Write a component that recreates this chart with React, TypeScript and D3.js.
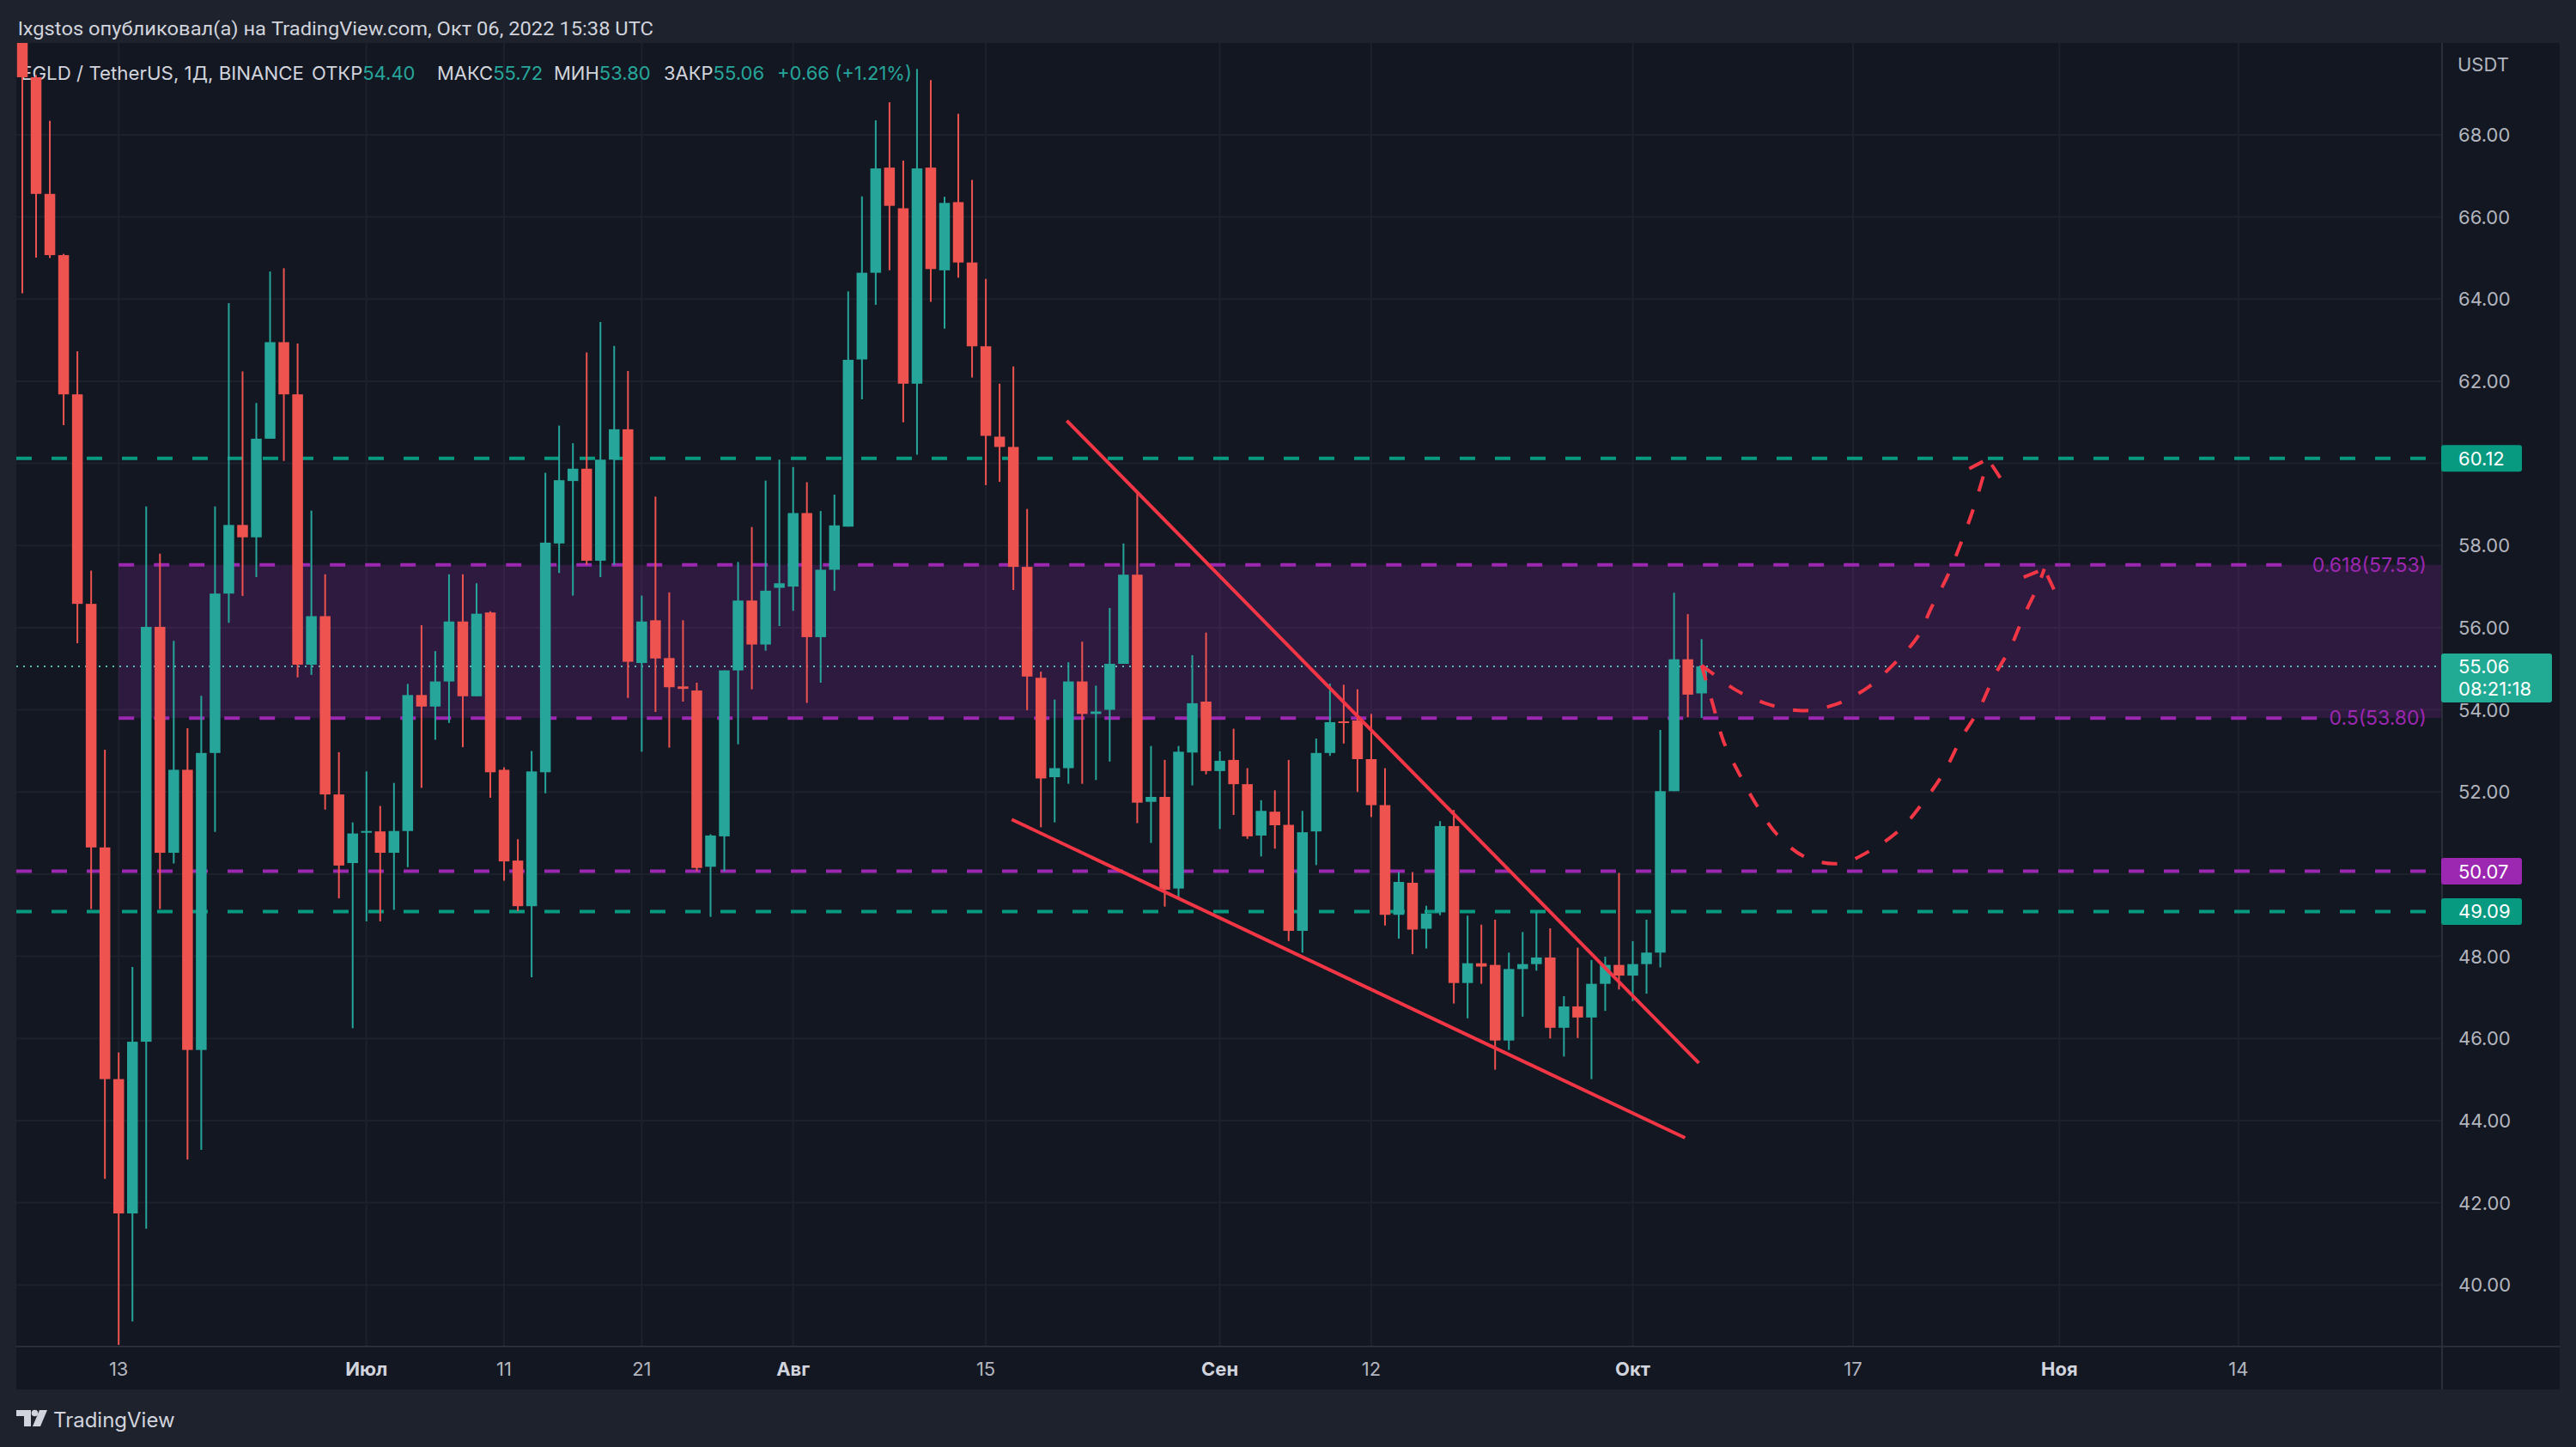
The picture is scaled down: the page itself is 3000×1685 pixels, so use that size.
import React from 'react';
import * as d3 from 'd3';

// ---------------- DATA ----------------
const START_DAY = '2022-06-06';

const opens = [
  71.0, 69.4, 66.56, 65.07, 61.68, 56.58, 50.65, 45.01, 41.74, 45.92,
  56.02, 50.52, 52.54, 45.72, 52.95, 56.83, 58.5, 58.2, 60.6, 62.95,
  61.68, 55.1, 56.28, 51.94, 50.27, 51.03, 51.04, 50.52, 51.05, 54.36,
  54.08, 54.69, 56.15, 54.33, 56.37, 52.54, 50.33, 49.22, 52.48, 58.05,
  59.57, 59.87, 57.63, 60.09, 60.83, 55.14, 56.18, 55.26, 54.57, 54.47,
  50.18, 50.92, 54.96, 56.66, 55.59, 56.97, 57.0, 58.79, 55.77, 57.41,
  58.46, 62.53, 64.64, 67.2, 66.21, 61.94, 67.2, 64.7, 66.36, 64.89,
  62.85, 60.65, 60.4, 57.48, 54.78, 52.36, 52.58, 54.69, 53.9, 54.0,
  55.12, 57.29, 51.76, 51.88, 49.65, 52.96, 54.2, 52.51, 52.78, 52.19,
  50.94, 51.52, 51.2, 48.62, 51.04, 52.95, 53.72, 53.74, 52.8, 51.68,
  49.01, 49.79, 48.67, 49.07, 51.17, 47.35, 47.83, 47.79, 45.95, 47.69,
  47.81, 47.97, 46.26, 46.78, 46.51, 47.33, 47.79, 47.53, 47.81, 48.09,
  52.02, 55.23, 54.4,
];
const highs = [
  71.5, 69.45, 68.34, 65.1, 62.73, 57.39, 53.03, 45.66, 47.74, 58.95,
  57.8, 55.68, 53.55, 54.34, 58.95, 63.9, 62.24, 61.47, 64.67, 64.75,
  62.92, 58.85, 57.3, 52.97, 51.26, 52.5, 51.66, 52.22, 54.63, 56.06,
  55.43, 57.3, 57.3, 57.08, 56.4, 52.6, 50.85, 53.0, 59.77, 60.92,
  60.49, 62.7, 63.44, 62.86, 62.25, 56.78, 59.19, 56.86, 56.18, 54.66,
  50.97, 54.96, 57.6, 58.45, 59.58, 60.09, 59.91, 59.54, 58.84, 59.24,
  64.19, 66.5, 68.35, 68.79, 67.37, 69.6, 69.33, 66.49, 68.51, 66.9,
  64.49, 61.94, 62.36, 58.89, 54.93, 54.25, 55.16, 55.66, 54.59, 56.48,
  58.05, 59.3, 53.12, 52.78, 53.12, 55.33, 55.88, 52.99, 53.54, 52.58,
  51.8, 52.04, 52.78, 51.54, 53.3, 54.64, 54.61, 54.5, 53.9, 52.58,
  50.05, 50.05, 49.23, 51.29, 51.56, 48.99, 48.77, 48.89, 48.09, 48.59,
  49.07, 48.68, 47.03, 48.21, 47.91, 47.99, 50.03, 48.37, 48.89, 53.51,
  56.85, 56.33, 55.72,
];
const lows = [
  64.14, 65.01, 65.0, 60.93, 55.62, 49.15, 42.58, 38.54, 39.11, 41.37,
  49.15, 50.26, 43.05, 43.29, 51.03, 56.12, 56.77, 57.23, 60.6, 60.06,
  54.79, 54.85, 51.57, 49.41, 46.25, 48.85, 48.85, 49.13, 50.17, 52.1,
  53.27, 53.68, 53.09, 54.33, 51.86, 49.84, 49.1, 47.49, 51.97, 57.33,
  56.78, 57.53, 57.23, 57.53, 54.29, 52.98, 53.95, 53.08, 54.2, 50.07,
  48.96, 50.07, 53.16, 54.5, 55.44, 56.04, 56.41, 54.17, 54.66, 56.9,
  58.46, 61.56, 63.86, 64.7, 61.0, 60.21, 63.93, 63.28, 64.52, 62.09,
  59.47, 59.55, 56.92, 53.99, 51.14, 51.26, 52.2, 52.2, 52.29, 52.74,
  55.12, 51.24, 50.76, 49.21, 49.38, 52.16, 52.43, 51.1, 51.44, 50.86,
  50.43, 50.62, 48.37, 48.09, 50.22, 52.88, 53.18, 52.0, 51.39, 48.75,
  48.43, 48.05, 48.19, 49.0, 46.85, 46.49, 47.33, 45.24, 45.72, 46.53,
  47.65, 46.0, 45.56, 46.01, 45.01, 46.67, 47.19, 46.91, 47.09, 47.73,
  52.02, 53.82, 53.8,
];
const closes = [
  69.4, 66.56, 65.07, 61.68, 56.58, 50.65, 45.01, 41.74, 45.92, 56.02,
  50.52, 52.54, 45.72, 52.95, 56.83, 58.5, 58.2, 60.6, 62.95, 61.68,
  55.1, 56.28, 51.94, 50.21, 50.99, 51.05, 50.52, 51.05, 54.36, 54.08,
  54.69, 56.15, 54.33, 56.34, 52.48, 50.31, 49.22, 52.5, 58.07, 59.59,
  59.87, 57.63, 60.09, 60.83, 55.17, 56.15, 55.25, 54.55, 54.51, 50.15,
  50.94, 54.96, 56.66, 55.59, 56.9, 57.08, 58.79, 55.77, 57.41, 58.49,
  62.52, 64.64, 67.18, 66.27, 61.94, 67.18, 64.73, 66.34, 64.89, 62.85,
  60.67, 60.4, 57.48, 54.81, 52.33, 52.58, 54.69, 53.9, 53.96, 55.12,
  57.29, 51.74, 51.88, 49.62, 52.98, 54.16, 52.51, 52.76, 52.19, 50.92,
  51.54, 51.19, 48.62, 51.02, 52.95, 53.7, 53.68, 52.8, 51.68, 49.01,
  49.81, 48.65, 49.04, 51.17, 47.35, 47.83, 47.75, 45.95, 47.69, 47.81,
  47.97, 46.26, 46.78, 46.51, 47.33, 47.79, 47.53, 47.81, 48.09, 52.02,
  55.23, 54.37, 55.06,
];

const priceTicks = [40, 42, 44, 46, 48, 50, 52, 54, 56, 58, 60, 62, 64, 66, 68];

const timeTickDates = ['2022-06-13', '2022-07-01', '2022-07-11', '2022-07-21', '2022-08-01', '2022-08-15',
  '2022-09-01', '2022-09-12', '2022-10-01', '2022-10-17', '2022-11-01', '2022-11-14'];
const timeTickLabels = ['13', 'Июл', '11', '21', 'Авг', '15', 'Сен', '12', 'Окт', '17', 'Ноя', '14'];
const timeTickIsMonth = [false, true, false, false, true, false, true, false, true, false, true, false];

// horizontal levels
const levelPrices = [60.12, 50.07, 49.09];
const levelKinds = ['green', 'purple', 'green'];

// fib retracement zone
const fibStartDay = 7;
const fibLevels = [57.53, 53.80];
const fibLabels = ['0.618(57.53)', '0.5(53.80)'];

const lastPrice = 55.06;
const countdown = '08:21:18';

// trend lines: [dayIndex, price]
const upperTrend: [number, number][] = [[75.88, 61.04], [121.8, 45.4]];
const lowerTrend: [number, number][] = [[71.88, 51.33], [120.8, 43.58]];

// projected paths: [dayIndex, price]
const pathShallow: [number, number][] = [
  [122.0, 55.08], [122.7, 54.91], [124.5, 54.48], [126.8, 54.14], [129.3, 53.98], [131.8, 54.14],
  [134.1, 54.55], [135.9, 55.09], [137.7, 55.78], [138.7, 56.49], [139.9, 57.28], [140.9, 58.11],
  [141.75, 58.9], [142.5, 59.73], [142.8, 60.11],
];
const arrowShallow: [number, number][] = [[141.45, 59.87], [142.8, 60.11], [143.7, 59.65]];
const pathDeep: [number, number][] = [
  [122.0, 55.08], [122.83, 54.12], [123.6, 53.23], [124.8, 52.4], [126.0, 51.68], [127.5, 50.96],
  [129.5, 50.42], [132.0, 50.26], [134.4, 50.6], [136.5, 51.11], [138.1, 51.75], [139.6, 52.47],
  [140.9, 53.33], [142.1, 53.98], [143.3, 54.84], [144.4, 55.49], [145.4, 56.28], [146.4, 56.99],
  [146.9, 57.43],
];
const arrowDeep: [number, number][] = [[145.4, 57.23], [146.9, 57.43], [147.6, 56.93]];

// ---------------- LAYOUT ----------------
const W = 3000;
const H = 1685;
const PANE_L = 19;
const PANE_R = 2844;
const PANE_T = 50;
const PANE_B = 1568;
const FRAME_R = 2981;
const FRAME_B = 1618;

const C_BG_OUT = '#1e222d';
const C_BG = '#131722';
const C_GRID = '#1d212c';
const C_BORDER = '#2a2e39';
const C_UP = '#26a69a';
const C_DN = '#ef5350';
const C_GREEN = '#089981';
const C_PURPLE = '#9c27b0';
const C_DRAW = '#f23645';
const C_TEXT = '#d1d4dc';
const C_AXIS = '#b2b5be';
const FONT = 'Inter, Roboto, "DejaVu Sans", sans-serif';

const DAY_MS = 86400000;
const t0 = Date.parse(START_DAY + 'T00:00:00Z');
const dateAt = (d: number) => new Date(t0 + d * DAY_MS);

const x = d3.scaleUtc().domain([dateAt(0), dateAt(175)]).range([26, 26 + 175 * 16.03]);
const xd = (d: number) => x(dateAt(d));
const y = d3.scaleLinear().domain([38.5, 70.235]).range([PANE_B, PANE_T]);

const curveLine = d3.line<[number, number]>()
  .x((p) => xd(p[0]))
  .y((p) => y(p[1]))
  .curve(d3.curveCatmullRom.alpha(0.5));
const straight = d3.line<[number, number]>()
  .x((p) => xd(p[0]))
  .y((p) => y(p[1]));

function Candles() {
  const step = xd(1) - xd(0);
  const bw = step * 0.78;
  return (
    <g>
      {closes.map((c, i) => {
        const o = opens[i];
        const up = c >= o;
        const col = up ? C_UP : C_DN;
        const cx = xd(i);
        const yTop = y(Math.max(o, c));
        const yBot = y(Math.min(o, c));
        return (
          <g key={i}>
            <line x1={cx} x2={cx} y1={y(highs[i])} y2={y(lows[i])} stroke={col} strokeWidth={2} />
            <rect x={cx - bw / 2} y={yTop} width={bw} height={Math.max(2, yBot - yTop)} fill={col} />
          </g>
        );
      })}
    </g>
  );
}

function Arrow({ pts }: { pts: [number, number][] }) {
  const tip = pts[1];
  return (
    <g>
      <path d={straight([pts[0], tip]) || ''} stroke={C_DRAW} strokeWidth={4} fill="none" strokeDasharray="18 10" />
      <path d={straight([pts[2], tip]) || ''} stroke={C_DRAW} strokeWidth={4} fill="none" strokeDasharray="18 10" />
    </g>
  );
}

function Logo() {
  return (
    <g>
      <path d="M19 1642 H36 V1661 H28 V1649 H19 Z" fill={C_TEXT} />
      <circle cx={40.5} cy={1645.5} r={3.8} fill={C_TEXT} />
      <path d="M46 1642 H55 L47 1661 H38 Z" fill={C_TEXT} />
      <text x={62} y={1653} fontSize={24} fill={C_TEXT} fontFamily={FONT} dominantBaseline="central">TradingView</text>
    </g>
  );
}

export default function App() {
  const lastY = y(lastPrice);
  const fibX0 = xd(fibStartDay);
  const fibTextW = [146, 116];
  // axis labels hidden behind the level boxes (as in the reference)
  const visibleTicks = priceTicks.filter((p) => levelPrices.every((lv) => Math.abs(y(lv) - y(p)) > 30));
  return (
    <div style={{ position: 'absolute', left: 0, top: 0 }}>
      <svg width={W} height={H} viewBox={`0 0 ${W} ${H}`} style={{ display: 'block' }}>
        <defs>
          <clipPath id="pane">
            <rect x={PANE_L} y={PANE_T} width={PANE_R - PANE_L} height={PANE_B - PANE_T} />
          </clipPath>
        </defs>
        <rect x={0} y={0} width={W} height={H} fill={C_BG_OUT} />
        <rect x={PANE_L} y={PANE_T} width={FRAME_R - PANE_L} height={FRAME_B - PANE_T} fill={C_BG} />

        {/* header */}
        <text x={21} y={33} fontSize={22} fill={C_TEXT} fontFamily="Roboto, sans-serif" dominantBaseline="central"
          textLength={740} lengthAdjust="spacingAndGlyphs">
          lxgstos опубликовал(а) на TradingView.com, Окт 06, 2022 15:38 UTC
        </text>

        <g clipPath="url(#pane)">
          {/* grid */}
          {priceTicks.map((p) => (
            <line key={'gy' + p} x1={PANE_L} x2={PANE_R} y1={y(p)} y2={y(p)} stroke={C_GRID} strokeWidth={2} />
          ))}
          {timeTickDates.map((d) => {
            const xx = x(new Date(d + 'T00:00:00Z'));
            return <line key={'gx' + d} x1={xx} x2={xx} y1={PANE_T} y2={PANE_B} stroke={C_GRID} strokeWidth={2} />;
          })}

          {/* fib zone */}
          <rect x={fibX0} y={y(fibLevels[0])} width={PANE_R - fibX0} height={y(fibLevels[1]) - y(fibLevels[0])}
            fill="rgba(156,39,176,0.2)" />
          {fibLevels.map((p, k) => (
            <line key={'fib' + k} x1={fibX0} x2={2826 - fibTextW[k] - 6} y1={y(p)} y2={y(p)}
              stroke={C_PURPLE} strokeWidth={4} strokeDasharray="18 23" />
          ))}
          {fibLevels.map((p, k) => (
            <text key={'fibt' + k} x={2826} y={y(p)} fontSize={23} fill={C_PURPLE} textAnchor="end"
              dominantBaseline="central" fontFamily={FONT}>{fibLabels[k]}</text>
          ))}

          {/* horizontal levels */}
          {levelPrices.map((p, k) => (
            <line key={'lv' + k} x1={PANE_L} x2={PANE_R} y1={y(p)} y2={y(p)}
              stroke={levelKinds[k] === 'green' ? C_GREEN : C_PURPLE} strokeWidth={4} strokeDasharray="18 23" />
          ))}

          {/* last price line */}
          <line x1={PANE_L} x2={PANE_R} y1={lastY} y2={lastY} stroke="#5fb8ae" strokeWidth={2} strokeDasharray="2 6" />

          {/* legend */}
          <g fontFamily={FONT} fontSize={22} dominantBaseline="central">
            <text x={24} y={85} fill={C_TEXT} textLength={330} lengthAdjust="spacingAndGlyphs">EGLD / TetherUS, 1Д, BINANCE</text>
            <text x={363} y={85} fill={C_TEXT}>ОТКР<tspan fill={C_UP}>54.40</tspan></text>
            <text x={509} y={85} fill={C_TEXT}>МАКС<tspan fill={C_UP}>55.72</tspan></text>
            <text x={645} y={85} fill={C_TEXT}>МИН<tspan fill={C_UP}>53.80</tspan></text>
            <text x={773} y={85} fill={C_TEXT}>ЗАКР<tspan fill={C_UP}>55.06</tspan></text>
            <text x={905} y={85} fill={C_UP}>+0.66 (+1.21%)</text>
          </g>

          <Candles />

          {/* trend lines */}
          <path d={straight(upperTrend) || ''} stroke={C_DRAW} strokeWidth={4} fill="none" />
          <path d={straight(lowerTrend) || ''} stroke={C_DRAW} strokeWidth={4} fill="none" />

          {/* projections */}
          <path d={curveLine(pathShallow) || ''} stroke={C_DRAW} strokeWidth={4} fill="none" strokeDasharray="18 22" />
          <path d={curveLine(pathDeep) || ''} stroke={C_DRAW} strokeWidth={4} fill="none" strokeDasharray="18 22" />
          <Arrow pts={arrowShallow} />
          <Arrow pts={arrowDeep} />
        </g>

        {/* borders */}
        <line x1={PANE_L} x2={FRAME_R} y1={PANE_B} y2={PANE_B} stroke={C_BORDER} strokeWidth={2} />
        <line x1={PANE_R} x2={PANE_R} y1={PANE_T} y2={FRAME_B} stroke={C_BORDER} strokeWidth={2} />

        {/* price axis */}
        <text x={2862} y={75} fontSize={22} fill={C_AXIS} fontFamily={FONT} dominantBaseline="central">USDT</text>
        {visibleTicks.map((p) => (
          <text key={'pt' + p} x={2863} y={y(p)} fontSize={22} fill={C_AXIS} fontFamily={FONT}
            dominantBaseline="central">{p.toFixed(2)}</text>
        ))}
        {levelPrices.map((p, k) => (
          <g key={'lb' + k}>
            <rect x={2843} y={y(p) - 15.5} width={94} height={31} rx={3}
              fill={levelKinds[k] === 'green' ? C_GREEN : C_PURPLE} />
            <text x={2863} y={y(p)} fontSize={22} fill="#ffffff" fontFamily={FONT} dominantBaseline="central">
              {p.toFixed(2)}
            </text>
          </g>
        ))}
        <rect x={2843} y={lastY - 15} width={129} height={57} rx={3} fill="#22ab94" />
        <text x={2863} y={lastY} fontSize={22} fill="#ffffff" fontFamily={FONT} dominantBaseline="central">
          {lastPrice.toFixed(2)}
        </text>
        <text x={2863} y={lastY + 26} fontSize={22} fill="#ffffff" fontFamily={FONT} dominantBaseline="central">
          {countdown}
        </text>

        {/* time axis */}
        {timeTickDates.map((d, k) => (
          <text key={'tt' + d} x={x(new Date(d + 'T00:00:00Z'))} y={1594} fontSize={22}
            fill={timeTickIsMonth[k] ? C_TEXT : C_AXIS} fontWeight={timeTickIsMonth[k] ? 700 : 400}
            fontFamily={FONT} textAnchor="middle" dominantBaseline="central">{timeTickLabels[k]}</text>
        ))}

        <Logo />
      </svg>
    </div>
  );
}
